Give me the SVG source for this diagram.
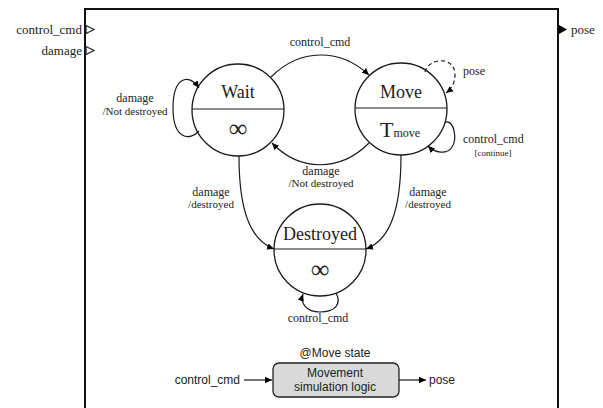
<svg xmlns="http://www.w3.org/2000/svg" width="603" height="408" viewBox="0 0 603 408">
<defs>
<marker id="ah" markerWidth="8" markerHeight="8" refX="7" refY="4" orient="auto" markerUnits="userSpaceOnUse">
<path d="M0,0.8 L7,4 L0,7.2 Z" fill="#000"/>
</marker>
<style>
.st{fill:#fff;stroke:#1a1a1a;stroke-width:1.3}
.ln{fill:none;stroke:#1a1a1a;stroke-width:1.2}
.dash{stroke-dasharray:4,3}
.sf{font-family:"Liberation Serif","Times New Roman",serif;fill:#222}
.ss{font-family:"Liberation Sans",Arial,sans-serif;fill:#222}
.mid{text-anchor:middle}
</style>
</defs>
<rect x="85" y="9" width="473" height="430" fill="#fff" stroke="#111" stroke-width="2"/>

<g id="ports">
<polygon points="86,25.5 94,29.5 86,33.5" fill="#fff" stroke="#222" stroke-width="1.2"/>
<polygon points="86,46.5 94,50.5 86,54.5" fill="#fff" stroke="#222" stroke-width="1.2"/>
<polygon points="559,25 567,29.5 559,34" fill="#000"/>
<text class="sf" x="82" y="33.5" font-size="13" text-anchor="end">control_cmd</text>
<text class="sf" x="82" y="54.5" font-size="13" text-anchor="end">damage</text>
<text class="sf" x="571" y="34" font-size="13">pose</text>
</g>

<g id="wait">
<circle class="st" cx="238" cy="110" r="46"/>
<line class="ln" x1="192" y1="109" x2="284" y2="109"/>
<text class="sf mid" x="238" y="98" font-size="18">Wait</text>
<text class="sf mid" x="238" y="137" font-size="26">∞</text>
</g>

<g id="move">
<circle class="st" cx="401" cy="109" r="46"/>
<line class="ln" x1="355" y1="108" x2="447" y2="108"/>
<text class="sf mid" x="401" y="98" font-size="18">Move</text>
<text class="sf" x="380" y="137" font-size="22">T<tspan font-size="12">move</tspan></text>
</g>

<g id="destroyed">
<circle class="st" cx="320" cy="250" r="46"/>
<line class="ln" x1="274" y1="249" x2="366" y2="249" stroke-width="1.6"/>
<text class="sf mid" x="320" y="240" font-size="18">Destroyed</text>
<text class="sf mid" x="320" y="278" font-size="26">∞</text>
</g>

<g id="connectors">
<path class="ln" d="M271,77 C300,48 340,48 369,75" marker-end="url(#ah)"/>
<path class="ln" d="M369,143 C340,172 300,172 272,143" marker-end="url(#ah)"/>
<path class="ln" d="M199,131 C190,141 173,140 173,108 C173,78 188,72 199,88" marker-end="url(#ah)"/>
<path class="ln dash" d="M425,72 C428,58 455,55 455,75 C455,84 450,90 446,93" marker-end="url(#ah)"/>
<path class="ln" d="M445,122 C455,120 457,140 452,147 C447,155 435,153 428,146" marker-end="url(#ah)"/>
<path class="ln" d="M239,156 C239,210 250,240 274,249" marker-end="url(#ah)"/>
<path class="ln" d="M401,155 C401,210 390,240 366,249" marker-end="url(#ah)"/>
<path class="ln" d="M336,293 C342,304 335,312 320,312 C306,312 300,303 303,294" marker-end="url(#ah)"/>
<line class="ln" x1="244" y1="380" x2="272" y2="380" marker-end="url(#ah)"/>
<line class="ln" x1="399" y1="380" x2="426" y2="380" marker-end="url(#ah)"/>
</g>

<g id="labels">
<text class="sf mid" x="320" y="46" font-size="12">control_cmd</text>
<text class="sf mid" x="135" y="102" font-size="12">damage</text>
<text class="sf mid" x="135" y="115" font-size="11">/Not destroyed</text>
<text class="sf" x="463" y="75" font-size="12">pose</text>
<text class="sf" x="463" y="143" font-size="12">control_cmd</text>
<text class="sf mid" x="493" y="156" font-size="9">[continue]</text>
<text class="sf mid" x="321" y="175" font-size="12">damage</text>
<text class="sf mid" x="321" y="187" font-size="11">/Not destroyed</text>
<text class="sf mid" x="211" y="196" font-size="12">damage</text>
<text class="sf mid" x="211" y="208" font-size="11">/destroyed</text>
<text class="sf mid" x="428" y="196" font-size="12">damage</text>
<text class="sf mid" x="428" y="208" font-size="11">/destroyed</text>
<text class="sf mid" x="318" y="322" font-size="12">control_cmd</text>
</g>

<g id="logic">
<text class="ss mid" x="335" y="357" font-size="12">@Move state</text>
<rect x="273" y="363" width="126" height="34" rx="6" fill="#d9d9d9" stroke="#222" stroke-width="1.3"/>
<text class="ss mid" x="335" y="377" font-size="12">Movement</text>
<text class="ss mid" x="335" y="391" font-size="12">simulation logic</text>
<text class="ss" x="240" y="384" font-size="12" text-anchor="end">control_cmd</text>
<text class="ss" x="429" y="384" font-size="12">pose</text>
</g>
</svg>
